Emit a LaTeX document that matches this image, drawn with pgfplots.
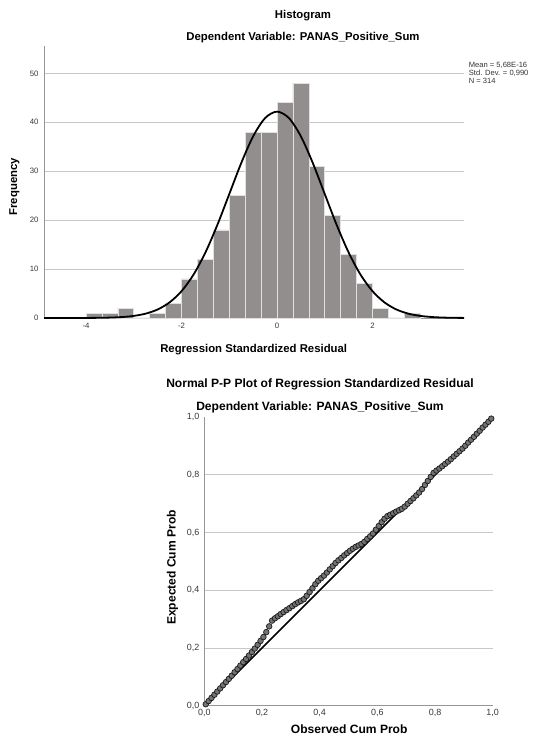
\documentclass[border=0pt]{standalone}
\usepackage{pgfplots}
\pgfplotsset{compat=1.18}
\usepackage{fontspec}
\setmainfont{Liberation Sans}
\definecolor{barfill}{RGB}{146,142,141}
\definecolor{gridc}{RGB}{200,200,200}
\definecolor{axc}{RGB}{150,150,150}
\begin{document}
\begin{tikzpicture}[x=1bp,y=1bp]
\path[use as bounding box] (0,0) rectangle (533,749);
% ---------------- Histogram ----------------
\begin{axis}[
  at={(44bp,431bp)}, anchor=south west,
  width=420bp, height=272bp, scale only axis,
  xmin=-4.88, xmax=3.916, ymin=0, ymax=55.6,
  axis x line*=bottom, axis y line*=left,
  axis line style={-, draw=axc, line width=0.8pt},
  xtick={-4,-2,0,2}, ytick={0,10,20,30,40,50},
  major tick length=0pt,
  ymajorgrids, grid style={draw=gridc, line width=0.8pt},
  /pgf/number format/assume math mode=true,
  ticklabel style={font=\fontsize{7.8}{8.5}\selectfont, text=black!78},
  xticklabel style={yshift=-1.5bp},
  yticklabel style={xshift=-2bp},
  clip=false,
]
\addplot[ybar interval, fill=barfill, draw=white!88!black, line width=0.7pt]
coordinates {(-4.0,1) (-3.6667,1) (-3.3333,2) (-3.0,0) (-2.6667,1) (-2.3333,3)
(-2.0,8) (-1.6667,12) (-1.3333,18) (-1.0,25) (-0.6667,38) (-0.3333,38) (0,44)
(0.3333,48) (0.6667,31) (1.0,21) (1.3333,13) (1.6667,7) (2.0,2) (2.3333,0)
(2.6667,1) (3.0,0)};
\addplot[smooth, black, line width=1.8pt] coordinates {
(-4.88,0.0002) (-4.75,0.0004) (-4.5,0.0014) (-4.25,0.0042) (-4,0.012) (-3.75,0.0323)
(-3.5,0.0815) (-3.25,0.193) (-3,0.428) (-2.75,0.891) (-2.5,1.74) (-2.25,3.19)
(-2,5.48) (-1.75,8.84) (-1.5,13.38) (-1.25,19.01) (-1,25.33) (-0.75,31.66)
(-0.5,37.13) (-0.25,40.86) (0,42.18) (0.25,40.86) (0.5,37.13) (0.75,31.66)
(1,25.33) (1.25,19.01) (1.5,13.38) (1.75,8.84) (2,5.48) (2.25,3.19) (2.5,1.74)
(2.75,0.891) (3,0.428) (3.25,0.193) (3.5,0.0815) (3.75,0.0323) (3.916,0.017)};
\end{axis}
\node[anchor=base, font=\bfseries\fontsize{11.4}{13}\selectfont] at (303,730.7) {Histogram};
\node[anchor=base, font=\bfseries\fontsize{11.4}{13}\selectfont] at (303,708.7) {Dependent Variable: PANAS\_Positive\_Sum};
\node[anchor=base, rotate=90, font=\bfseries\fontsize{11.4}{13}\selectfont] at (17,562.3) {Frequency};
\node[anchor=base, font=\bfseries\fontsize{11.4}{13}\selectfont] at (253.7,396.3) {Regression Standardized Residual};
\node[anchor=north west, align=left, inner sep=0pt, font=\fontsize{7.6}{7.7}\selectfont, text=black!80] at (468.7,686.5) {Mean = 5,68E-16\\Std. Dev. = 0,990\\N = 314};
% ---------------- P-P plot ----------------
\begin{axis}[
  at={(204.3bp,43.3bp)}, anchor=south west,
  width=288.4bp, height=288.5bp, scale only axis,
  xmin=0, xmax=1, ymin=0, ymax=1,
  axis x line*=bottom, axis y line*=left,
  axis line style={-, draw=axc, line width=0.8pt},
  xtick={0,0.2,0.4,0.6,0.8,1}, ytick={0,0.2,0.4,0.6,0.8},
  extra y ticks={1}, extra y tick style={grid=none},
  major tick length=0pt,
  ymajorgrids, grid style={draw=gridc, line width=0.8pt},
  /pgf/number format/.cd, use comma, fixed, fixed zerofill, precision=1, assume math mode=true,
  /pgfplots/.cd,
  ticklabel style={font=\fontsize{9}{10}\selectfont, text=black!78},
  xticklabel style={yshift=-0.5bp},
  yticklabel style={xshift=-1.5bp},
  clip=false,
]
\addplot[black, line width=1.6pt] coordinates {(0,0) (1,1)};
\addplot[only marks, mark=*, mark size=2.8bp, mark options={draw=black!90, fill=black!55, line width=0.7pt}]
coordinates {
(0.005,0.005) (0.015,0.016) (0.025,0.027) (0.035,0.038) (0.045,0.049)
(0.055,0.060) (0.065,0.071) (0.075,0.082) (0.085,0.093) (0.095,0.104)
(0.105,0.116) (0.115,0.127) (0.125,0.139) (0.135,0.151) (0.145,0.162)
(0.155,0.174) (0.165,0.186) (0.175,0.198) (0.185,0.211) (0.195,0.2245)
(0.205,0.238) (0.215,0.255) (0.225,0.275) (0.235,0.295) (0.245,0.303)
(0.255,0.310) (0.265,0.3175) (0.275,0.3245) (0.285,0.3315) (0.295,0.338)
(0.305,0.345) (0.315,0.352) (0.325,0.358) (0.335,0.363) (0.345,0.369)
(0.355,0.381) (0.365,0.394) (0.375,0.407) (0.385,0.421) (0.395,0.433)
(0.405,0.442) (0.415,0.451) (0.425,0.4615) (0.435,0.4725) (0.445,0.4835)
(0.455,0.4945) (0.465,0.504) (0.475,0.512) (0.485,0.521) (0.495,0.529)
(0.505,0.537) (0.515,0.544) (0.525,0.5505) (0.535,0.5555) (0.545,0.5605)
(0.555,0.568) (0.565,0.578) (0.575,0.587) (0.585,0.597) (0.595,0.610)
(0.605,0.623) (0.615,0.636) (0.625,0.648) (0.635,0.657) (0.645,0.662)
(0.655,0.667) (0.665,0.6725) (0.675,0.6775) (0.685,0.6825) (0.695,0.690)
(0.705,0.700) (0.715,0.7095) (0.725,0.719) (0.735,0.729) (0.745,0.739)
(0.755,0.751) (0.765,0.765) (0.775,0.779) (0.785,0.793) (0.795,0.807)
(0.805,0.815) (0.815,0.822) (0.825,0.830) (0.835,0.838) (0.845,0.846)
(0.855,0.8546) (0.865,0.864) (0.875,0.873) (0.885,0.882) (0.895,0.891)
(0.905,0.901) (0.915,0.912) (0.925,0.922) (0.935,0.932) (0.945,0.943)
(0.955,0.953) (0.965,0.964) (0.975,0.974) (0.985,0.984) (0.995,0.995)};
\end{axis}
\node[anchor=base, font=\bfseries\fontsize{12.1}{14}\selectfont] at (320,361.3) {Normal P-P Plot of Regression Standardized Residual};
\node[anchor=base, font=\bfseries\fontsize{12.1}{14}\selectfont] at (320,338.3) {Dependent Variable: PANAS\_Positive\_Sum};
\node[anchor=base, rotate=90, font=\bfseries\fontsize{12.1}{14}\selectfont] at (175.5,181.5) {Expected Cum Prob};
\node[anchor=base, font=\bfseries\fontsize{12.1}{14}\selectfont] at (349.2,15.7) {Observed Cum Prob};
\end{tikzpicture}
\end{document}
